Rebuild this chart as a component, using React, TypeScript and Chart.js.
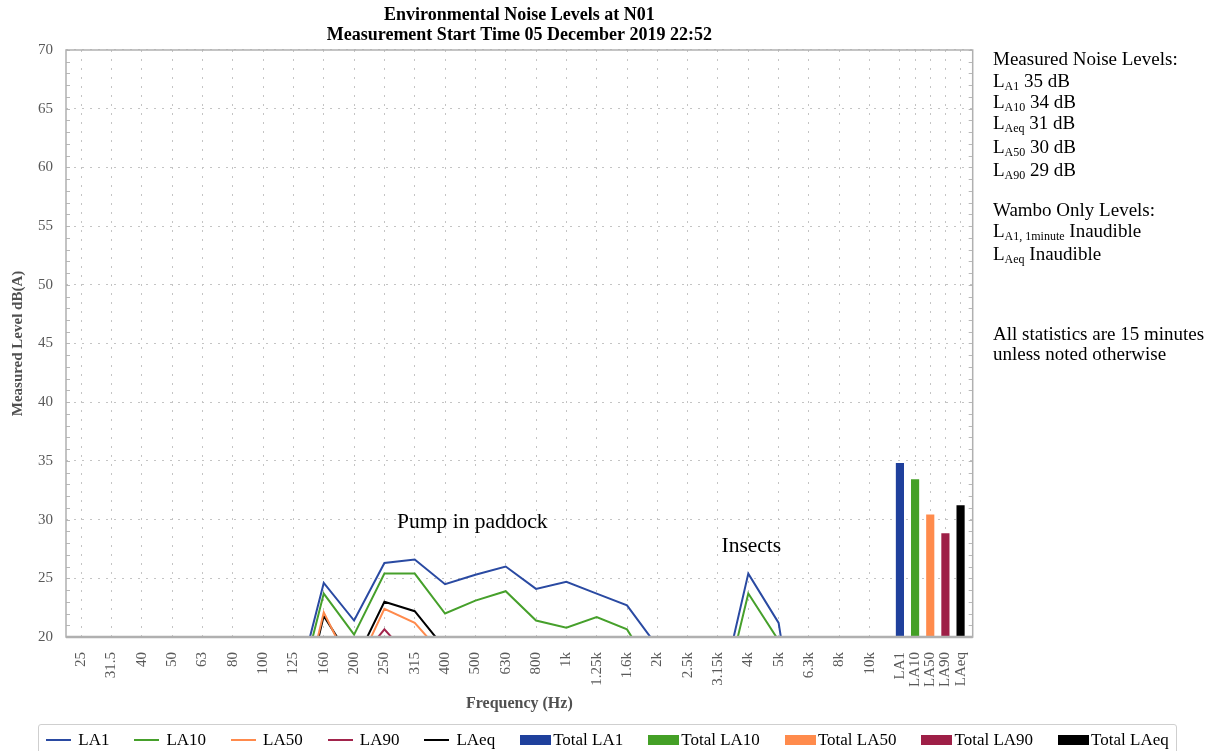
import React, { useEffect, useRef } from 'react';
import { Chart, registerables } from 'chart.js';

Chart.register(...registerables);

const FONT = "'Liberation Serif', 'Times New Roman', serif";

// Category (x) labels
const freqLabels = ['25', '31.5', '40', '50', '63', '80', '100', '125', '160', '200', '250', '315', '400', '500', '630', '800', '1k', '1.25k', '1.6k', '2k', '2.5k', '3.15k', '4k', '5k', '6.3k', '8k', '10k'];
const totalLabels = ['LA1', 'LA10', 'LA50', 'LA90', 'LAeq'];
const totalPositions = [27, 27.5, 28, 28.5, 29];

// Spectrum series, dB(A) per 1/3 octave band (values below 20 are outside the plot)
const la1 = [9, 10.5, 11, 12.5, 12, 13.5, 13, 14.5, 24.6, 21.4, 26.3, 26.6, 24.5, 25.3, 26.0, 24.1, 24.7, 23.7, 22.7, 19.2, 17, 14.2, 25.4, 21.2, 5, 6, 5];
const la10 = [8, 9.5, 10, 11.5, 11, 12.5, 12, 13.5, 23.7, 20.2, 25.4, 25.4, 22.0, 23.1, 23.9, 21.4, 20.8, 21.7, 20.65, 16.5, 14, 13.0, 23.7, 19.7, 4, 5, 4];
const la50 = [5, 6, 7, 8, 8.5, 9.5, 10, 11.2, 22.1, 16.9, 22.4, 21.2, 18.3, 15.5, 16, 14, 13.5, 14, 13, 11, 10, 10, 14, 12, 3, 3, 2];
const la90 = [4, 5, 6, 7, 7.5, 8.5, 9, 10, 15, 17.5, 20.65, 17.8, 16, 13, 13.5, 12, 11.5, 12, 11, 9, 8, 8, 11, 10, 2, 2, 1];
const laeq = [7, 8, 9, 10, 10.5, 11.5, 11, 11, 21.8, 17.7, 23.0, 22.2, 19.0, 17, 17.5, 16, 16, 16, 15, 13, 12, 12, 17, 14, 4, 4, 3];

// Overall totals
const totalValues = [34.8, 33.4, 30.4, 28.8, 31.2];

const seriesNames = ['LA1', 'LA10', 'LA50', 'LA90', 'LAeq'];
const seriesData = [la1, la10, la50, la90, laeq];
const lineColors = ['#2a4aa2', '#46a02b', '#ff8a4c', '#a2244c', '#000000'];
const barNames = ['Total LA1', 'Total LA10', 'Total LA50', 'Total LA90', 'Total LAeq'];
const barColors = ['#1f409c', '#44a026', '#ff8b4c', '#9e1f47', '#000000'];

// Annotations in data coordinates
const annotations = [
  { text: 'Pump in paddock', x: 12.9, y: 29.8 },
  { text: 'Insects', x: 22.1, y: 27.7 },
];

// Side panel text
const measuredSubs = ['A1', 'A10', 'Aeq', 'A50', 'A90'];
const measuredValues = ['35 dB', '34 dB', '31 dB', '30 dB', '29 dB'];
const measuredCenters = [81, 101.5, 122.5, 147, 169.5];
const wamboSubs = ['A1, 1minute', 'Aeq'];
const wamboValues = ['Inaudible', 'Inaudible'];
const wamboCenters = [231, 253.5];

const allTickValues = [...freqLabels.map((_, i) => i), ...totalPositions];
const allTickLabels = [...freqLabels, ...totalLabels];

const framePlugin = {
  id: 'frame',
  afterDatasetsDraw(chart: any) {
    const { ctx, chartArea: a, scales } = chart;
    const y = scales.y;
    const x = scales.x;
    ctx.save();
    ctx.strokeStyle = '#b8b8b8';
    ctx.lineWidth = 1;
    for (let v = 20; v <= 70; v++) {
      const py = Math.round(y.getPixelForValue(v)) + 0.5;
      ctx.beginPath();
      ctx.moveTo(a.left, py);
      ctx.lineTo(a.left + 4, py);
      ctx.moveTo(a.right - 4, py);
      ctx.lineTo(a.right, py);
      ctx.stroke();
    }
    ctx.strokeStyle = '#b0b0b0';
    ctx.lineWidth = 1.5;
    ctx.strokeRect(a.left, a.top, a.right - a.left, a.bottom - a.top);
    ctx.lineWidth = 2.5;
    ctx.beginPath();
    ctx.moveTo(a.left, a.bottom);
    ctx.lineTo(a.right, a.bottom);
    ctx.stroke();
    ctx.fillStyle = '#000';
    ctx.font = `21.5px ${FONT}`;
    ctx.textAlign = 'center';
    ctx.textBaseline = 'middle';
    annotations.forEach((an) => {
      ctx.fillText(an.text, x.getPixelForValue(an.x), y.getPixelForValue(an.y));
    });
    ctx.restore();
  },
};

function ChartCanvas() {
  const ref = useRef<HTMLCanvasElement | null>(null);
  useEffect(() => {
    if (!ref.current) return;
    Chart.defaults.font.family = FONT;
    const lineSets = seriesNames.map((name, s) => ({
      type: 'line' as const,
      label: name,
      data: seriesData[s].map((v, i) => ({ x: i, y: v })),
      borderColor: lineColors[s],
      backgroundColor: lineColors[s],
      borderWidth: 2,
      pointRadius: 0,
      tension: 0,
      fill: false,
    }));
    const barSets = barNames.map((name, b) => ({
      type: 'bar' as const,
      label: name,
      data: [{ x: totalPositions[b], y: totalValues[b] }],
      backgroundColor: barColors[b],
      borderWidth: 0,
      barThickness: 7.5,
      grouped: false,
    }));
    const chart = new Chart(ref.current, {
      type: 'line',
      data: { datasets: [...lineSets, ...barSets] as any },
      options: {
        responsive: false,
        animation: false,
        devicePixelRatio: 1,
        layout: { padding: { left: 0, top: 0, right: 246.3, bottom: 38 } },
        plugins: {
          legend: { display: false },
          tooltip: { enabled: false },
          title: {
            display: true,
            fullSize: false,
            text: ['Environmental Noise Levels at N01', 'Measurement Start Time 05 December 2019 22:52'],
            color: '#000',
            font: { size: 18, weight: 'bold', family: FONT, lineHeight: 1.111 },
            padding: { top: 5, bottom: 5 },
          },
        },
        scales: {
          x: {
            type: 'linear',
            min: -0.5,
            max: 29.4,
            offset: false,
            afterBuildTicks: (scale: any) => {
              scale.ticks = allTickValues.map((v) => ({ value: v }));
            },
            afterFit: (scale: any) => {
              scale.height = 76;
            },
            ticks: {
              autoSkip: false,
              minRotation: 90,
              maxRotation: 90,
              padding: 15,
              color: '#595959',
              font: { size: 15, family: FONT },
              callback: (_v: any, i: number) => allTickLabels[i],
            },
            grid: { color: '#c4c4c4', drawTicks: false, lineWidth: 1, offset: false },
            border: { display: false, dash: [2, 7] },
            title: {
              display: true,
              text: 'Frequency (Hz)',
              color: '#505050',
              font: { size: 16, weight: 'bold', family: FONT },
              padding: { top: 0, bottom: 0 },
            },
          },
          y: {
            type: 'linear',
            min: 20,
            max: 70,
            afterFit: (scale: any) => {
              scale.width = 66;
            },
            ticks: {
              stepSize: 5,
              padding: 13,
              color: '#595959',
              font: { size: 15, family: FONT },
            },
            grid: { color: '#c4c4c4', drawTicks: false, lineWidth: 1 },
            border: { display: false, dash: [2, 6] },
            title: {
              display: true,
              text: 'Measured Level dB(A)',
              color: '#505050',
              font: { size: 15, weight: 'bold', family: FONT },
              padding: { top: 9, bottom: 0 },
            },
          },
        },
      } as any,
      plugins: [framePlugin],
    });
    return () => chart.destroy();
  }, []);
  return <canvas ref={ref} width={1219} height={751} style={{ display: 'block' }} />;
}

const panelLine = (top: number): React.CSSProperties => ({
  position: 'absolute',
  left: 993,
  top: top - 10,
  lineHeight: '20px',
  whiteSpace: 'nowrap',
});

const subStyle: React.CSSProperties = { fontSize: 12, verticalAlign: -3 };

export default function App() {
  return (
    <div style={{ position: 'fixed', left: 0, top: 0, width: 1219, height: 751, background: '#fff', overflow: 'hidden' }}>
      <ChartCanvas />
      <div style={{ fontFamily: FONT, fontSize: 19, color: '#000' }}>
        <div style={panelLine(58.5)}>Measured Noise Levels:</div>
        {measuredSubs.map((s, i) => (
          <div key={s} style={panelLine(measuredCenters[i])}>
            L<span style={subStyle}>{s}</span> {measuredValues[i]}
          </div>
        ))}
        <div style={panelLine(210)}>Wambo Only Levels:</div>
        {wamboSubs.map((s, i) => (
          <div key={s} style={panelLine(wamboCenters[i])}>
            L<span style={subStyle}>{s}</span> {wamboValues[i]}
          </div>
        ))}
        <div style={panelLine(333.5)}>All statistics are 15 minutes</div>
        <div style={panelLine(353.5)}>unless noted otherwise</div>
      </div>
      <div
        style={{
          position: 'absolute',
          left: 38,
          top: 724,
          width: 1139,
          height: 40,
          boxSizing: 'border-box',
          border: '1px solid #cfcfcf',
          borderRadius: 3,
          display: 'flex',
          justifyContent: 'center',
          alignItems: 'flex-start',
          fontFamily: FONT,
          fontSize: 17,
          color: '#000',
        }}
      >
        <div style={{ display: 'flex', alignItems: 'center', height: 30, gap: 25 }}>
          {seriesNames.map((n, i) => (
            <div key={n} style={{ display: 'flex', alignItems: 'center' }}>
              <span style={{ display: 'inline-block', width: 25, height: 2, background: lineColors[i], marginRight: 7 }} />
              {n}
            </div>
          ))}
          {barNames.map((n, i) => (
            <div key={n} style={{ display: 'flex', alignItems: 'center' }}>
              <span style={{ display: 'inline-block', width: 31, height: 10, background: barColors[i], marginRight: 2 }} />
              {n}
            </div>
          ))}
        </div>
      </div>
    </div>
  );
}
